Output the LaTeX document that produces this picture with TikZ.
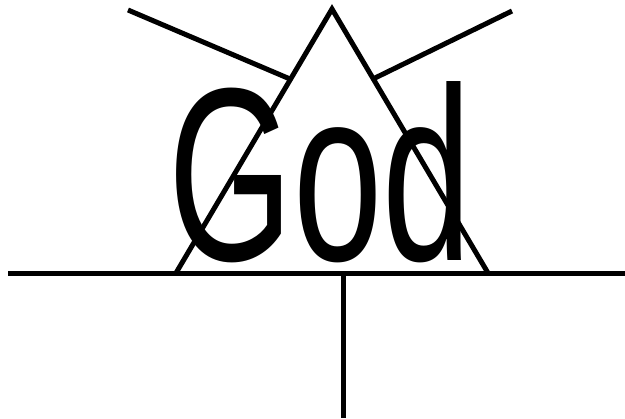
\documentclass[tikz,border=0pt]{standalone}
\usepackage{fontspec}
\setmainfont{Liberation Sans}
\tikzset{stroke/.style={line width=5pt, line cap=butt}}
\begin{document}
\begin{tikzpicture}[x=1pt,y=-1pt]
\useasboundingbox (0,0) rectangle (625,419);
\coordinate (apex) at (332,9);
\coordinate (bl) at (176,273);
\coordinate (br) at (488,273);
\coordinate (hl) at (8,274);
\coordinate (hr) at (625,274);
\coordinate (vt) at (343,276);
\coordinate (vb) at (343,418);
\coordinate (l1) at (128,10);
\coordinate (l2) at (290,79);
\coordinate (r1) at (375,78);
\coordinate (r2) at (512,11);
\node[font=\fontsize{247}{247}\selectfont, xscale=0.65, anchor=base, inner sep=0] (god) at (320,261) {God};
\draw[stroke, line join=miter] (bl) -- (apex) -- (br);
\draw[stroke] (hl) -- (hr);
\draw[stroke] (vt) -- (vb);
\draw[stroke] (l1) -- (l2);
\draw[stroke] (r1) -- (r2);
\end{tikzpicture}
\end{document}
